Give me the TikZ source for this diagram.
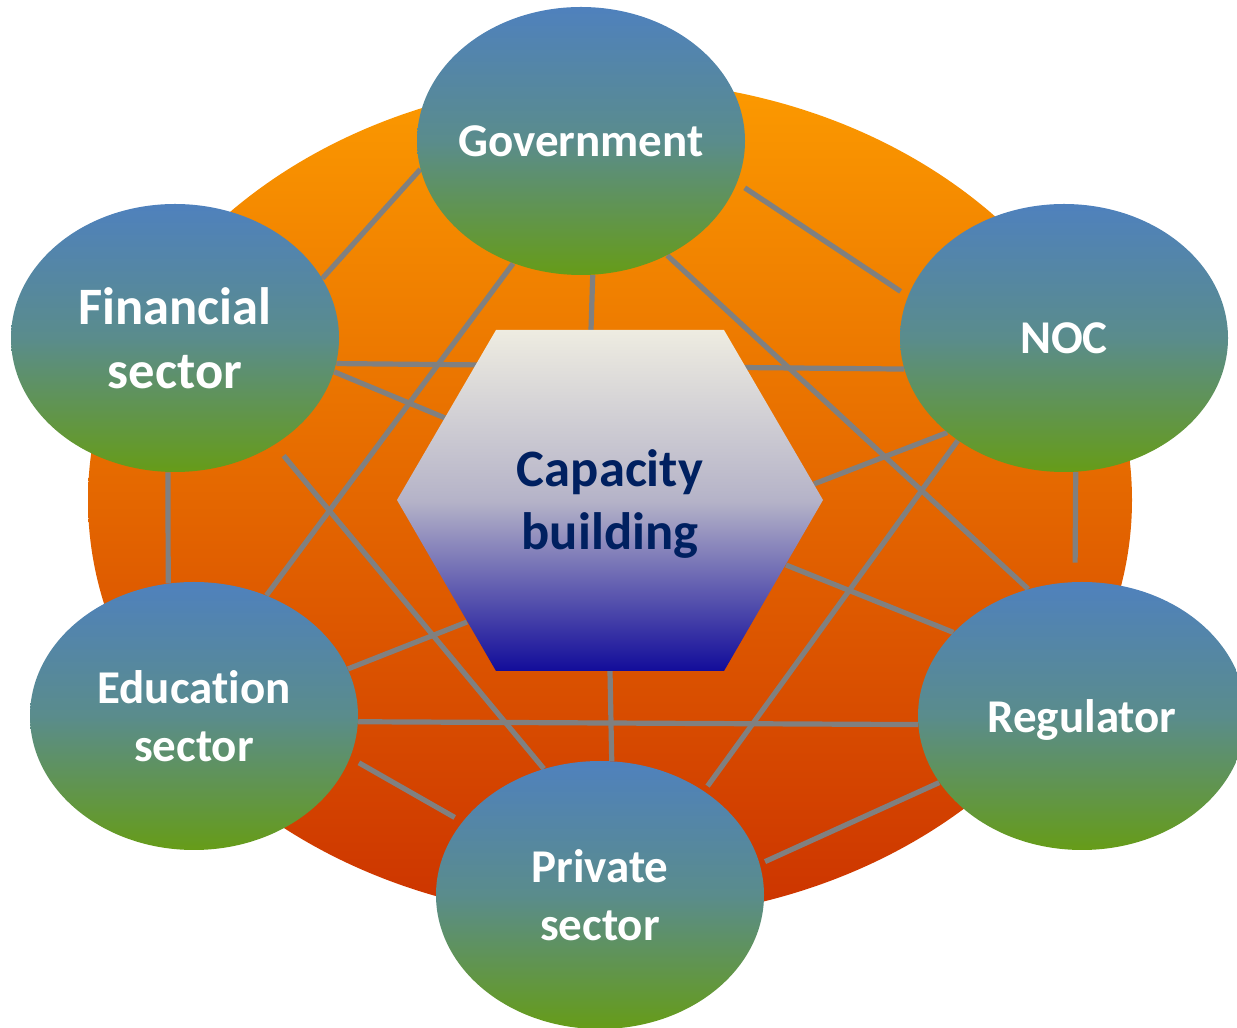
\documentclass[tikz,border=0pt]{standalone}
\usepackage{fontspec}
\setmainfont{Carlito}[Ligatures={NoCommon}]
\usepackage{tikz}
\usetikzlibrary{shapes.geometric}
\pgfdeclarelayer{back}
\pgfdeclarelayer{links}
\pgfsetlayers{back,links,main}

\definecolor{actorTop}{HTML}{4F81BD}
\definecolor{actorMid}{HTML}{5A8C8C}
\definecolor{actorBot}{HTML}{669C18}
\definecolor{ringTop}{HTML}{FC9A00}
\definecolor{ringBot}{HTML}{CC3300}
\definecolor{hubTop}{HTML}{EEECE1}
\definecolor{hubMid}{HTML}{B5B3C8}
\definecolor{hubBot}{HTML}{120C9A}
\definecolor{hubText}{HTML}{002060}
\definecolor{linkGray}{HTML}{808080}

\tikzset{
  actor/.style={ellipse, minimum width=164pt, minimum height=134pt,
    inner xsep=-20pt, inner ysep=0pt,
    top color=actorTop, bottom color=actorBot, middle color=actorMid,
    text=white, align=center, text depth=0pt,
    font=\fontsize{23.5}{29}\selectfont\bfseries},
  link/.style={draw=linkGray, line width=2.6pt}
}

\begin{document}
\begin{tikzpicture}[x=0.5pt, y=0.5pt]

  \useasboundingbox (0,0) rectangle (1237,1028);

  % orange background
  \begin{pgfonlayer}{back}
    \shade[top color=ringTop, bottom color=ringBot] (610,528) ellipse [x radius=261pt, y radius=210pt];
  \end{pgfonlayer}

  % stakeholders
  \node[actor] (gov) at (581,887) {Government};
  \node[actor] (noc) at (1064,690) {NOC};
  \node[actor, font=\fontsize{26.3}{32}\selectfont\bfseries] (fin) at (175,690) {Financial\\sector};
  \node[actor] (edu) at (194,312) {Education\\sector};
  \node[actor] (reg) at (1082,312) {Regulator};
  \node[actor] (priv) at (600,133) {Private\\sector};

  % hexagon in the middle
  \shade[top color=hubTop, bottom color=hubBot, middle color=hubMid]
    (496,698) -- (724,698) -- (823,528) -- (724,357) -- (496,357) -- (397,528) -- cycle;
  \node[text=hubText, align=center, text depth=0pt,
    font=\fontsize{26.3}{31.5}\selectfont\bfseries] (hub) at (610,528) {Capacity\\building};

  \coordinate (hubG) at (591,698);
  \coordinate (hubF) at (445,610);
  \coordinate (hubN) at (814,544);
  \coordinate (hubE) at (467,406);
  \coordinate (hubR) at (786,463);
  \coordinate (hubP) at (610,357);

  \begin{pgfonlayer}{links}
    \draw[link] (gov.-170.8) -- (fin.22.8); % gov-fin
    \draw[link, shorten <=4.5pt, shorten >=4.3pt] (gov.-15.7) -- (noc.165); % gov-noc
    \draw[link] (gov.-85.7) -- (hubG); % gov-hub
    \draw[link] (gov.-53.4) -- (reg.113.4); % gov-reg
    \draw[link] (gov.-119.8) -- (edu.59.3); % gov-edu

    \draw[link] (fin.-9.6) -- (noc.-169.8); % fin-noc, behind the hub
    \draw[link] (fin.-12) -- (hubF); % fin-hub
    \draw[link] (fin.-93.8) -- (edu.101.8); % fin-edu
    \draw[link, shorten <=7pt] (fin.-47.8) -- (priv.114.8); % fin-priv

    \draw[link] (noc.-141.2) -- (hubN); % noc-hub
    \draw[link, shorten >=9.5pt] (noc.-85.7) -- (reg.93.4); % noc-reg
    \draw[link, shorten >=3pt] (noc.-136.4) -- (priv.45.3); % noc-priv

    \draw[link] (hubR) -- (reg.147); % hub-reg
    \draw[link] (hubP) -- (priv.85.7); % hub-priv
    \draw[link] (edu.17.6) -- (hubE); % edu-hub

    \draw[link] (edu.-2.8) -- (reg.-177.2); % edu-reg
    \draw[link, shorten <=5pt, shorten >=4.3pt] (edu.-15.3) -- (priv.152); % edu-priv
    \draw[link, shorten >=2.8pt] (reg.-155.6) -- (priv.11); % reg-priv
  \end{pgfonlayer}

\end{tikzpicture}
\end{document}
